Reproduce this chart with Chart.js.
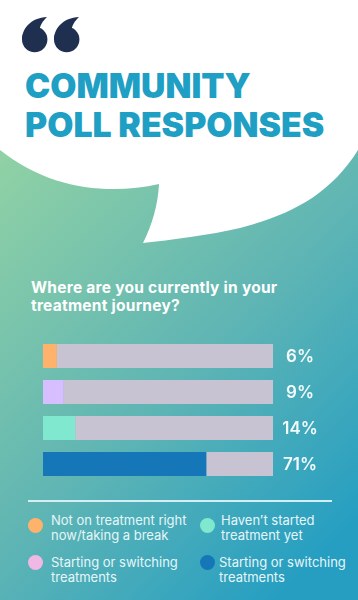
<!DOCTYPE html>
<html>
<head>
<meta charset="utf-8">
<script src="https://cdn.jsdelivr.net/npm/chart.js@4"></script>
<style>
  html, body { margin: 0; padding: 0; }
  body { width: 358px; height: 600px; position: relative; overflow: hidden;
    background: linear-gradient(135deg, #93d3a4 14%, #5fb5b4 58%, #259ec2 92%); }
  #bubble { position: absolute; left: 0; top: 0; }
  .title { position: absolute; left: 25px; color: #1f9fc4; font: 900 33.8px/40px Inter, sans-serif; white-space: nowrap; }
  #question { position: absolute; left: 31px; top: 279px; color: #fff; font: 700 15.5px/18px Inter, sans-serif; letter-spacing: 0.25px; white-space: nowrap; }
  #chart { position: absolute; left: 0; top: 338px; }
  #rule { position: absolute; left: 28px; top: 500px; width: 304px; height: 2px; background: #d3eff3; }
  .dot { position: absolute; width: 15px; height: 15px; border-radius: 50%; }
  .key { position: absolute; color: #e6f6f8; font: 400 13px/14.5px Inter, sans-serif; white-space: pre; }
</style>
</head>
<body>
<svg id="bubble" width="358" height="260" viewBox="0 0 358 260">
  <path fill="#fff" d="M0 0H358V150C330 195 290 215 240 228C210 235 170 240 143 243C152 225 158 205 159 184C110 195 50 190 0 150Z"/>
  <circle fill="#1f2f50" cx="34.7" cy="39.5" r="12.7"/>
  <path fill="#1f2f50" d="M47 17C31 18 22 28 22 40L40 31C39 26 43 21 47 17Z"/>
  <circle fill="#1f2f50" cx="66.7" cy="39.5" r="12.7"/>
  <path fill="#1f2f50" d="M79 17C63 18 54 28 54 40L72 31C71 26 75 21 79 17Z"/>
</svg>
<div class="title" style="top:66px">COMMUNITY</div>
<div class="title" style="top:105px">POLL RESPONSES</div>
<div id="question">Where are you currently in your<br>treatment journey?</div>
<canvas id="chart" width="358" height="144"></canvas>
<div id="rule"></div>
<script>
const categories = ["Not on treatment", "Starting or switching", "Haven't started", "Continuing"];
const values = [6, 9, 14, 71];
const rest = [94, 91, 86, 29];
const barColors = ["#ffb26b", "#d7bfff", "#7fe8cf", "#1577b8"];
const trackColor = "#c7c3d3";

const legendLabels = [
  "Not on treatment right\nnow/taking a break",
  "Haven\u2019t started\ntreatment yet",
  "Starting or switching\ntreatments",
  "Starting or switching\ntreatments"
];
const legendColors = ["#ffb26b", "#7fe8cf", "#f0b8e4", "#1577b8"];
const legendDots = [[28, 518], [200, 518], [28, 555], [200, 555]];
const legendText = [[51, 513], [221, 513], [51, 555], [219, 555]];

legendLabels.forEach((label, i) => {
  const dot = document.createElement("div");
  dot.className = "dot";
  dot.style.left = legendDots[i][0] + "px";
  dot.style.top = legendDots[i][1] + "px";
  dot.style.background = legendColors[i];
  document.body.appendChild(dot);
  const key = document.createElement("div");
  key.className = "key";
  key.style.left = legendText[i][0] + "px";
  key.style.top = legendText[i][1] + "px";
  key.textContent = label;
  document.body.appendChild(key);
});

// percent labels to the right of each track
const valueLabels = {
  id: "valueLabels",
  afterDatasetsDraw(chart) {
    const { ctx, scales } = chart;
    ctx.save();
    ctx.fillStyle = "#f2fafb";
    ctx.font = "600 17px Inter, sans-serif";
    ctx.textAlign = "center";
    ctx.textBaseline = "middle";
    values.forEach((v, i) => {
      ctx.fillText(v + "%", 300, scales.y.getPixelForValue(i) + 1);
    });
    ctx.restore();
  }
};

new Chart(document.getElementById("chart"), {
  type: "bar",
  data: {
    labels: categories,
    datasets: [
      { data: values, backgroundColor: barColors, barPercentage: 24 / 36, categoryPercentage: 1 },
      { data: rest, backgroundColor: trackColor, barPercentage: 24 / 36, categoryPercentage: 1 }
    ]
  },
  options: {
    indexAxis: "y",
    responsive: false,
    animation: false,
    layout: { padding: { left: 43, right: 85, top: 0, bottom: 0 } },
    scales: {
      x: { stacked: true, min: 0, max: 100, display: false },
      y: { stacked: true, display: false }
    },
    plugins: { legend: { display: false }, tooltip: { enabled: false } }
  },
  plugins: [valueLabels]
});
</script>
</body>
</html>
